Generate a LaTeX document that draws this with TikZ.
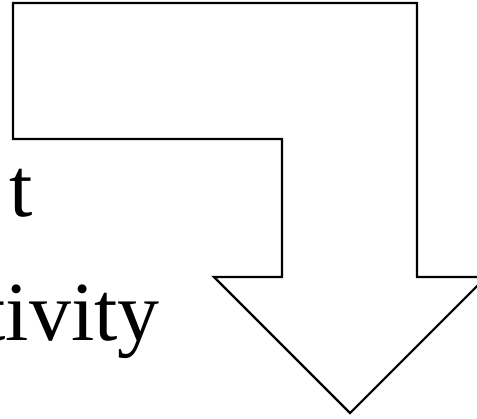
\documentclass[tikz,border=0pt]{standalone}
\usepackage{fontspec}
\setmainfont{Liberation Serif}
\begin{document}
\begin{tikzpicture}[x=0.75pt,y=-0.75pt,
  outline/.style={draw=black,line width=1.6pt,line join=miter,fill=white},
  bigtext/.style={font=\fontsize{63}{70}\selectfont,inner sep=0pt,anchor=base east}]
\useasboundingbox (0,0) rectangle (477,418);
\draw[outline] (13,3) -- (417,3) -- (417,277) -- (486,277) -- (350,413) -- (214,277) -- (282,277) -- (282,139) -- (13,139) -- cycle;
\node[bigtext] (l1) at (33,216) {t};
\node[bigtext] (l2) at (160,340) {tivity};
\end{tikzpicture}
\end{document}
